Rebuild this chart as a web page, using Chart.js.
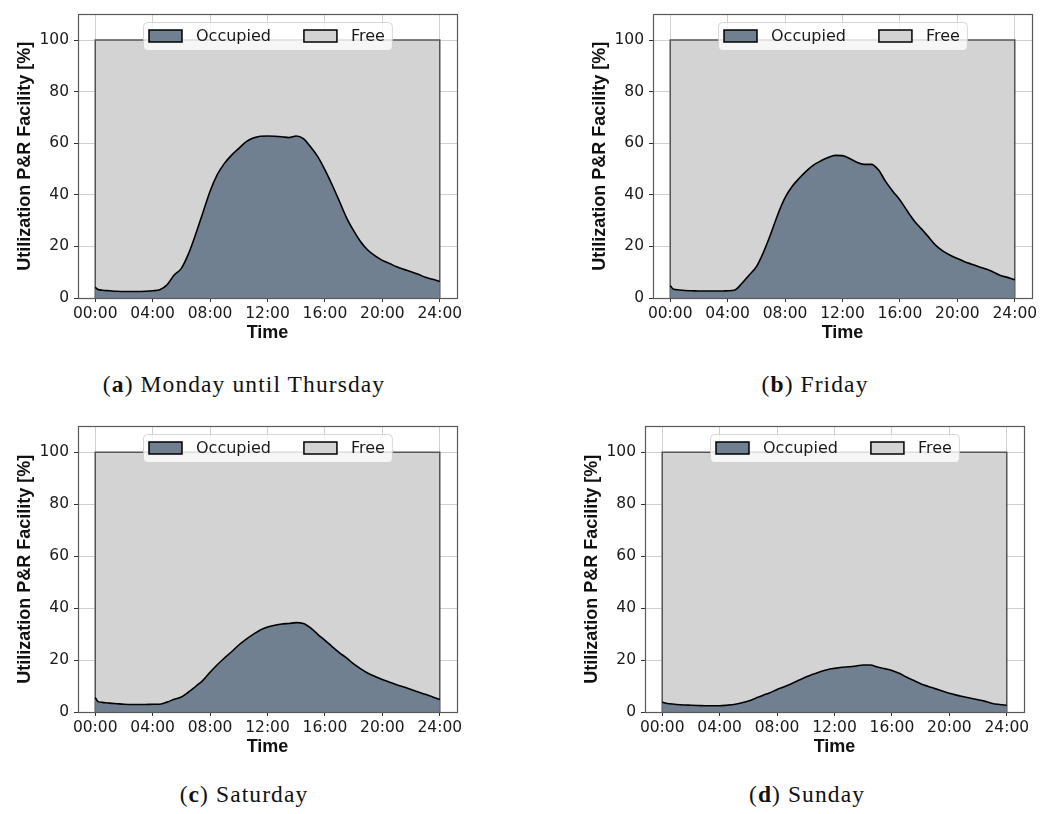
<!DOCTYPE html>
<html>
<head>
<meta charset="utf-8">
<script src="https://cdn.jsdelivr.net/npm/chart.js@4.4.1/dist/chart.umd.min.js"></script>
<style>
  body { margin: 0; background: #fff; width: 1061px; height: 814px; position: relative; overflow: hidden; }
  canvas { position: absolute; }
  .cap { position: absolute; width: 400px; text-align: center; font-family: 'Liberation Serif', serif; font-size: 23.5px; line-height: 23.5px; letter-spacing: 1.1px; color: #111; }
</style>
</head>
<body>
<canvas id="pa" width="470" height="350" style="left:0px;top:0px"></canvas>
<canvas id="pb" width="470" height="350" style="left:575px;top:0px"></canvas>
<canvas id="pc" width="470" height="352" style="left:0px;top:412px"></canvas>
<canvas id="pd" width="470" height="352" style="left:567px;top:412px"></canvas>
<div class="cap" style="left:44px;top:373px">(<b>a</b>) Monday until Thursday</div>
<div class="cap" style="left:615px;top:373px">(<b>b</b>) Friday</div>
<div class="cap" style="left:44px;top:783px">(<b>c</b>) Saturday</div>
<div class="cap" style="left:607px;top:783px">(<b>d</b>) Sunday</div>
<script>
// time of day in hours
const hours = [0, 0.2, 0.5, 1, 1.5, 2, 2.5, 3, 3.5, 4, 4.5, 5, 5.5, 6, 6.5, 7, 7.5, 8, 8.5, 9, 9.5, 10,
  10.5, 11, 11.5, 12, 12.5, 13, 13.5, 14, 14.5, 15, 15.5, 16, 16.5, 17, 17.5, 18, 18.5, 19, 19.5, 20,
  20.5, 21, 21.5, 22, 22.5, 23, 23.5, 24];
const xTickValues = [0, 4, 8, 12, 16, 20, 24];
const xTickLabels = ['00:00', '04:00', '08:00', '12:00', '16:00', '20:00', '24:00'];
const yTickValues = [0, 20, 40, 60, 80, 100];

// occupied share [%]
const monThu = [4.1, 3.3, 3.0, 2.8, 2.6, 2.5, 2.5, 2.5, 2.6, 2.8, 3.2, 5.1, 8.9, 11.5, 17.2, 24.8, 33.1, 41.4,
  47.8, 52.2, 55.4, 58.0, 60.5, 62.0, 62.7, 62.8, 62.7, 62.5, 62.2, 62.8, 61.8, 58.6, 54.8, 49.7, 43.9, 37.6,
  31.2, 26.1, 21.7, 18.5, 16.3, 14.6, 13.4, 12.1, 11.1, 10.2, 9.2, 8.0, 7.3, 6.4];
const friday = [4.8, 3.5, 3.2, 2.9, 2.8, 2.7, 2.7, 2.7, 2.7, 2.8, 3.1, 5.7, 8.9, 12.1, 17.8, 24.8, 32.5, 38.9,
  43.3, 46.5, 49.3, 51.6, 53.2, 54.5, 55.3, 55.2, 54.1, 52.6, 51.8, 51.8, 49.7, 45.2, 41.4, 38.0, 33.8, 29.9,
  26.8, 23.6, 20.4, 18.2, 16.6, 15.3, 14.1, 13.1, 12.1, 11.2, 10.1, 8.7, 8.0, 7.0];
const saturday = [5.6, 4.0, 3.7, 3.4, 3.2, 3.0, 2.9, 2.9, 2.9, 3.0, 3.0, 3.8, 4.9, 5.8, 7.7, 9.9, 12.2, 15.3,
  18.2, 20.8, 23.2, 25.8, 28.0, 29.9, 31.6, 32.7, 33.4, 33.9, 34.1, 34.4, 34.1, 32.4, 29.9, 27.6, 25.2, 22.9,
  20.8, 18.5, 16.6, 14.9, 13.7, 12.5, 11.5, 10.5, 9.6, 8.7, 7.7, 6.8, 5.8, 4.8];
const sunday = [3.8, 3.5, 3.2, 2.9, 2.7, 2.6, 2.5, 2.4, 2.4, 2.4, 2.6, 2.9, 3.5, 4.2, 5.3, 6.4, 7.4, 8.7,
  9.7, 10.9, 12.2, 13.5, 14.5, 15.5, 16.3, 16.8, 17.2, 17.4, 17.7, 18.1, 18.1, 17.3, 16.7, 16.0, 14.9, 13.5,
  12.2, 10.9, 9.9, 9.0, 8.1, 7.2, 6.5, 5.9, 5.3, 4.7, 4.1, 3.3, 2.9, 2.6];

// capacity outline (free area)
const freeHours = [0, 0, 24, 24];
const freeValues = [0, 100, 100, 0];

Chart.defaults.font.family = 'DejaVu Sans';

const framePlugin = {
  id: 'frame',
  afterDraw(chart) {
    const {ctx, chartArea: a} = chart;
    ctx.save();
    ctx.strokeStyle = '#595959';
    ctx.lineWidth = 1.2;
    ctx.strokeRect(Math.round(a.left) + 0.5, Math.round(a.top) + 0.5,
      Math.round(a.right - a.left), Math.round(a.bottom - a.top));

    // legend inside the axes, top centre
    const sets = chart.data.datasets;
    ctx.font = '16px "DejaVu Sans"';
    const sw = 33, sh = 12, pad = 6, gap = 14, colGap = 33;
    const widths = sets.map(d => ctx.measureText(d.label).width);
    let total = pad * 2 + 1;
    widths.forEach((w, i) => { total += sw + gap + w + (i < sets.length - 1 ? colGap : 0); });
    const bx = Math.round((a.left + a.right) / 2 - total / 2);
    const by = Math.round(a.top) + 8;
    const bh = 28;
    ctx.beginPath();
    ctx.roundRect(bx + 0.5, by + 0.5, total, bh, 4);
    ctx.fillStyle = 'rgba(255,255,255,0.8)';
    ctx.fill();
    ctx.strokeStyle = 'rgba(204,204,204,0.8)';
    ctx.lineWidth = 1;
    ctx.stroke();
    let x = bx + pad;
    const cy = by + bh / 2;
    sets.forEach((d, i) => {
      ctx.fillStyle = d.backgroundColor;
      ctx.fillRect(x, cy - sh / 2, sw, sh);
      ctx.strokeStyle = '#000';
      ctx.lineWidth = 1.5;
      ctx.strokeRect(x, cy - sh / 2, sw, sh);
      ctx.fillStyle = '#1a1a1a';
      ctx.textBaseline = 'middle';
      ctx.textAlign = 'left';
      ctx.fillText(d.label, x + sw + gap, cy + 1);
      x += sw + gap + widths[i] + colGap;
    });
    ctx.restore();
  }
};

function makePanel(id, values) {
  new Chart(document.getElementById(id), {
    type: 'line',
    data: {
      datasets: [
        {
          label: 'Occupied',
          data: hours.map((h, i) => ({x: h, y: values[i]})),
          backgroundColor: '#708090',
          borderColor: '#000',
          borderWidth: 1.6,
          fill: 'origin',
          pointRadius: 0,
          cubicInterpolationMode: 'monotone'
        },
        {
          label: 'Free',
          data: freeHours.map((h, i) => ({x: h, y: freeValues[i]})),
          backgroundColor: '#d3d3d3',
          borderColor: '#555',
          borderWidth: 1.5,
          fill: 'origin',
          pointRadius: 0,
          tension: 0
        }
      ]
    },
    options: {
      responsive: false,
      animation: false,
      devicePixelRatio: 1,
      layout: {padding: {top: 11, right: 13, left: 0, bottom: 0}},
      plugins: {legend: {display: false}, tooltip: {enabled: false}},
      scales: {
        x: {
          type: 'linear',
          min: -1.2,
          max: 25.2,
          z: 1,
          border: {display: false},
          grid: {color: 'rgba(176,176,176,0.6)', tickColor: '#333', tickLength: 4},
          afterBuildTicks: s => { s.ticks = xTickValues.map(v => ({value: v})); },
          ticks: {
            autoSkip: false,
            maxRotation: 0,
            padding: 3,
            color: '#1a1a1a',
            font: {size: 15.5},
            callback: v => xTickLabels[xTickValues.indexOf(v)]
          },
          title: {
            display: true,
            text: 'Time',
            color: '#111',
            font: {family: 'Liberation Sans', weight: 'bold', size: 18, lineHeight: 1.2},
            padding: {top: 0, bottom: 6}
          },
          afterFit: s => { s.height = 52; }
        },
        y: {
          min: 0,
          max: 110,
          z: 1,
          border: {display: false},
          grid: {color: 'rgba(176,176,176,0.6)', tickColor: '#333', tickLength: 4},
          afterBuildTicks: s => { s.ticks = yTickValues.map(v => ({value: v})); },
          ticks: {
            padding: 5,
            color: '#1a1a1a',
            font: {size: 15.5}
          },
          title: {
            display: true,
            text: 'Utilization P&R Facility [%]',
            color: '#111',
            font: {family: 'Liberation Sans', weight: 'bold', size: 18, lineHeight: 1.2},
            padding: {top: 14, bottom: 0}
          },
          afterFit: s => { s.width = 78; }
        }
      }
    },
    plugins: [framePlugin]
  });
}

makePanel('pa', monThu);
makePanel('pb', friday);
makePanel('pc', saturday);
makePanel('pd', sunday);
</script>
</body>
</html>
